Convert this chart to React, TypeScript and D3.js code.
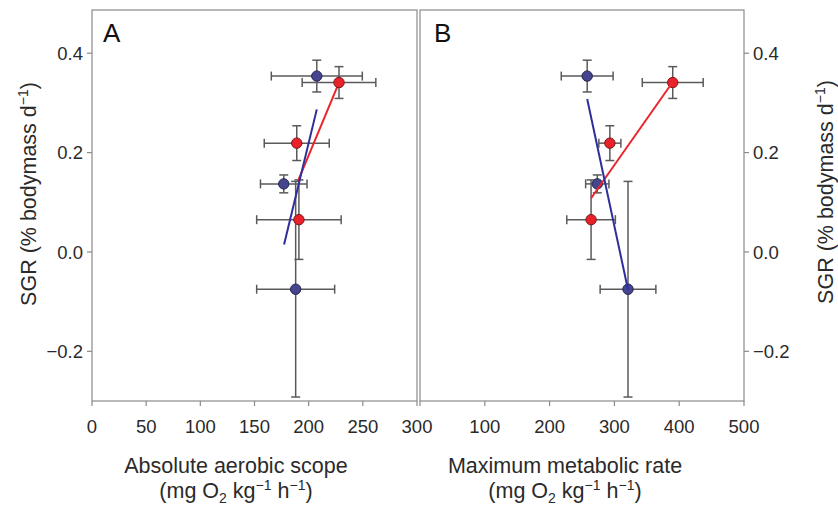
import React from "react";
import * as d3 from "d3";

// ---- Data ----
const sgr = [0.354, 0.137, -0.075]; // blue group SGR
const sgrErr = [0.032, 0.018, 0.217];
const sgrRed = [0.341, 0.219, 0.065]; // red group SGR
const sgrRedErr = [0.032, 0.035, 0.080];

// Panel A: absolute aerobic scope
const aasBlue = [207.5, 177, 188];
const aasBlueErr = [42, 21.5, 36];
const aasRed = [228, 189, 191];
const aasRedErr = [34, 30, 39];
const fitA_blue = [[177.3, 0.015], [207.5, 0.287]];
const fitA_red = [[190, 0.142], [228, 0.341]];

// Panel B: maximum metabolic rate
const mmrBlue = [258, 273.6, 321];
const mmrBlueErr = [40, 18, 43];
const mmrRed = [390, 293, 264];
const mmrRedErr = [47, 17, 37.5];
const fitB_blue = [[258, 0.308], [321, -0.076]];
const fitB_red = [[264, 0.108], [390, 0.342]];

const xTicksA = [0, 50, 100, 150, 200, 250, 300];
const xTicksB = [100, 200, 300, 400, 500];
const yTicks = [-0.2, 0.0, 0.2, 0.4];

const FONT = "'Liberation Sans', Arial, Helvetica, sans-serif";
const TXT = "#2a2a2a";
const BAR = "#5a5a5a";
const BLUE_FILL = "#44448f";
const BLUE_STROKE = "#25254f";
const BLUE_LINE = "#2f2f9c";
const RED_FILL = "#e8212a";
const RED_STROKE = "#7d1717";
const RED_LINE = "#e8262c";

const top = 10, bottom = 401;
const y = d3.scaleLinear().domain([-0.3, 0.487]).range([bottom, top]);

function ErrBars({ xs, xe, ys, ye, x }: any) {
  const cap = 4.5;
  return (
    <g stroke={BAR} strokeWidth={1.5} fill="none">
      {xs.map((v: number, i: number) => {
        const cx = x(v), cy = y(ys[i]);
        const x0 = x(v - xe[i]), x1 = x(v + xe[i]);
        const y0 = y(ys[i] - ye[i]), y1 = y(ys[i] + ye[i]);
        return (
          <g key={i}>
            <line x1={x0} x2={x1} y1={cy} y2={cy} />
            <line x1={x0} x2={x0} y1={cy - cap} y2={cy + cap} />
            <line x1={x1} x2={x1} y1={cy - cap} y2={cy + cap} />
            <line x1={cx} x2={cx} y1={y0} y2={y1} />
            <line x1={cx - cap} x2={cx + cap} y1={y0} y2={y0} />
            <line x1={cx - cap} x2={cx + cap} y1={y1} y2={y1} />
          </g>
        );
      })}
    </g>
  );
}

function Points({ xs, ys, x, fill, stroke }: any) {
  return (
    <g>
      {xs.map((v: number, i: number) => (
        <circle key={i} cx={x(v)} cy={y(ys[i])} r={5.2} fill={fill} stroke={stroke} strokeWidth={1} />
      ))}
    </g>
  );
}

function Fit({ pts, x, color }: any) {
  const line = d3.line<number[]>().x((d) => x(d[0])).y((d) => y(d[1]));
  return <path d={line(pts) || ""} stroke={color} strokeWidth={2} fill="none" />;
}

function XTitle({ cx, label }: any) {
  return (
    <g fontFamily={FONT} fill={TXT} textAnchor="middle">
      <text x={cx} y={473} fontSize={21.5}>{label}</text>
      <text x={cx} y={498} fontSize={21.5}>
        (mg O<tspan fontSize={14} dy={5}>2</tspan>
        <tspan dy={-5}> kg</tspan>
        <tspan fontSize={14} dy={-8}>−1</tspan>
        <tspan dy={8}> h</tspan>
        <tspan fontSize={14} dy={-8}>−1</tspan>
        <tspan dy={8}>)</tspan>
      </text>
    </g>
  );
}

function YTitle({ cx, cy }: any) {
  return (
    <text
      transform={`translate(${cx},${cy}) rotate(-90)`}
      textAnchor="middle"
      fontFamily={FONT}
      fontSize={21.5}
      fill={TXT}
    >
      SGR (% bodymass d<tspan fontSize={14} dy={-8}>−1</tspan>
      <tspan dy={8}>)</tspan>
    </text>
  );
}

export default function App() {
  const xA = d3.scaleLinear().domain([0, 300]).range([92, 417]);
  const xB = d3.scaleLinear().domain([0, 500]).range([420, 744]);
  const frame = "#8a8a8a";

  return (
    <svg width={838} height={506} style={{ position: "absolute", left: 0, top: 0 }}>
      <rect width={838} height={506} fill="#fff" />
      {/* frames */}
      <rect x={xA(0)} y={top} width={xA(300) - xA(0)} height={bottom - top} fill="none" stroke={frame} strokeWidth={1.2} />
      <rect x={xB(0)} y={top} width={xB(500) - xB(0)} height={bottom - top} fill="none" stroke={frame} strokeWidth={1.2} />

      {/* left y axis */}
      <g fontFamily={FONT} fontSize={18.5} fill={TXT}>
        {yTicks.map((t) => (
          <g key={"l" + t}>
            <line x1={xA(0) - 5} x2={xA(0)} y1={y(t)} y2={y(t)} stroke={frame} strokeWidth={1.2} />
            <text x={xA(0) - 9} y={y(t)} dy="0.36em" textAnchor="end">
              {t < 0 ? "−" + Math.abs(t).toFixed(1) : t.toFixed(1)}
            </text>
          </g>
        ))}
        {yTicks.map((t) => (
          <g key={"r" + t}>
            <line x1={xB(500)} x2={xB(500) + 5} y1={y(t)} y2={y(t)} stroke={frame} strokeWidth={1.2} />
            <text x={xB(500) + 9} y={y(t)} dy="0.36em" textAnchor="start">
              {t < 0 ? "−" + Math.abs(t).toFixed(1) : t.toFixed(1)}
            </text>
          </g>
        ))}
        {xTicksA.map((t) => (
          <g key={"xa" + t}>
            <line x1={xA(t)} x2={xA(t)} y1={bottom} y2={bottom + 5} stroke={frame} strokeWidth={1.2} />
            <text x={xA(t)} y={433} textAnchor="middle">{t}</text>
          </g>
        ))}
        <line x1={xB(0)} x2={xB(0)} y1={bottom} y2={bottom + 5} stroke={frame} strokeWidth={1.2} />
        {xTicksB.map((t) => (
          <g key={"xb" + t}>
            <line x1={xB(t)} x2={xB(t)} y1={bottom} y2={bottom + 5} stroke={frame} strokeWidth={1.2} />
            <text x={xB(t)} y={433} textAnchor="middle">{t}</text>
          </g>
        ))}
      </g>

      {/* panel labels */}
      <text x={103} y={42} fontFamily={FONT} fontSize={26} fill="#111">A</text>
      <text x={434} y={42} fontFamily={FONT} fontSize={26} fill="#111">B</text>

      {/* Panel A */}
      <ErrBars xs={aasRed} xe={aasRedErr} ys={sgrRed} ye={sgrRedErr} x={xA} />
      <ErrBars xs={aasBlue} xe={aasBlueErr} ys={sgr} ye={sgrErr} x={xA} />
      <Fit pts={fitA_red} x={xA} color={RED_LINE} />
      <Fit pts={fitA_blue} x={xA} color={BLUE_LINE} />
      <Points xs={aasBlue} ys={sgr} x={xA} fill={BLUE_FILL} stroke={BLUE_STROKE} />
      <Points xs={aasRed} ys={sgrRed} x={xA} fill={RED_FILL} stroke={RED_STROKE} />

      {/* Panel B */}
      <ErrBars xs={mmrRed} xe={mmrRedErr} ys={sgrRed} ye={sgrRedErr} x={xB} />
      <ErrBars xs={mmrBlue} xe={mmrBlueErr} ys={sgr} ye={sgrErr} x={xB} />
      <Points xs={mmrBlue} ys={sgr} x={xB} fill={BLUE_FILL} stroke={BLUE_STROKE} />
      <Points xs={mmrRed} ys={sgrRed} x={xB} fill={RED_FILL} stroke={RED_STROKE} />
      <Fit pts={fitB_red} x={xB} color={RED_LINE} />
      <Fit pts={fitB_blue} x={xB} color={BLUE_LINE} />

      {/* axis titles */}
      <XTitle cx={236} label="Absolute aerobic scope" />
      <XTitle cx={565} label="Maximum metabolic rate" />
      <YTitle cx={36} cy={194} />
      <YTitle cx={833} cy={192} />
    </svg>
  );
}
